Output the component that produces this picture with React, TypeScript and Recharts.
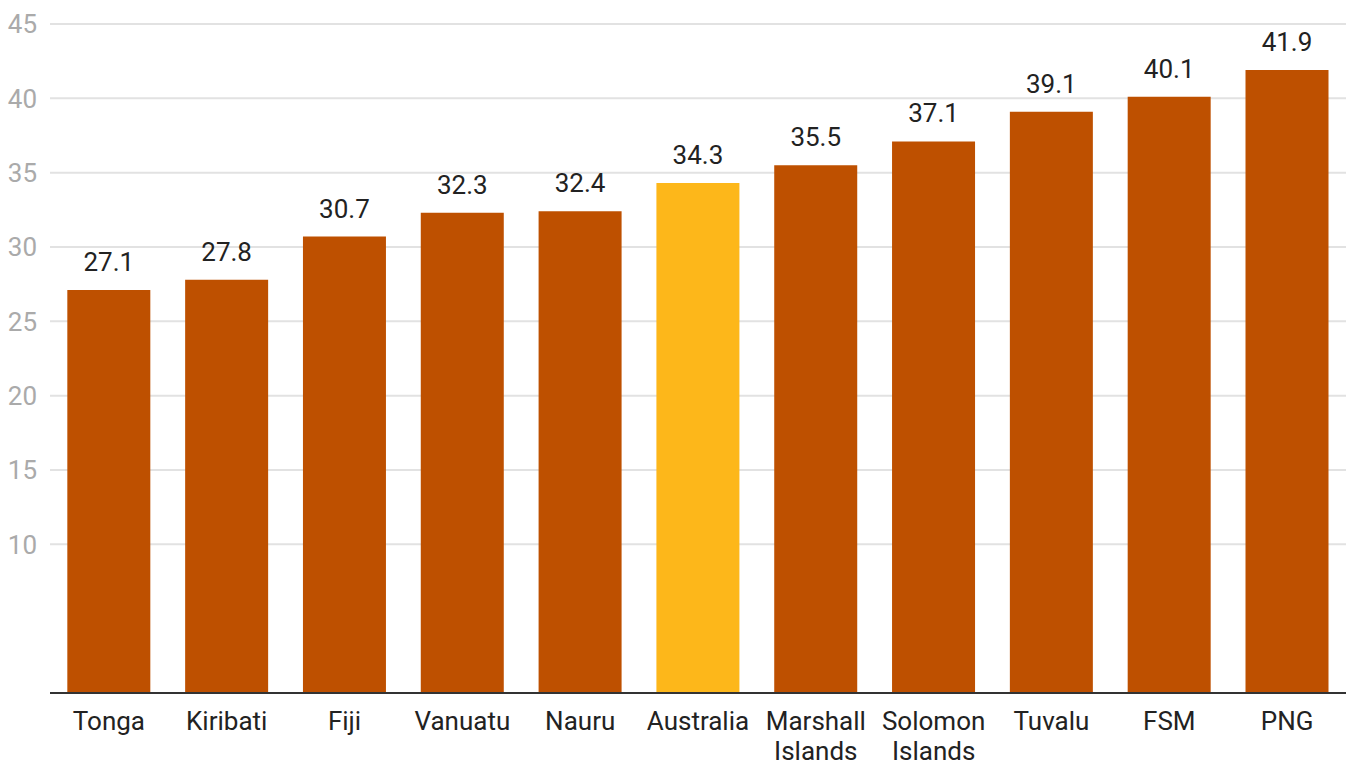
import React from 'react';
import { BarChart, Bar, XAxis, YAxis, CartesianGrid, Cell, LabelList } from 'recharts';

const categories = ['Tonga', 'Kiribati', 'Fiji', 'Vanuatu', 'Nauru', 'Australia', 'Marshall Islands', 'Solomon Islands', 'Tuvalu', 'FSM', 'PNG'];
const values = [27.1, 27.8, 30.7, 32.3, 32.4, 34.3, 35.5, 37.1, 39.1, 40.1, 41.9];
const highlight = 'Australia';
const yTicks = [10, 15, 20, 25, 30, 35, 40, 45];

const data = categories.map((name, i) => ({ name, value: values[i] }));

const FONT = 'Roboto, "Noto Sans", sans-serif';

const XTick = (props: any) => {
  const { x, y, payload } = props;
  const words = String(payload.value).split(' ');
  return (
    <g transform={`translate(${x},${y})`}>
      <text textAnchor="middle" fill="#222" fontSize={26} fontFamily={FONT}>
        {words.map((w: string, i: number) => (
          <tspan key={i} x={0} dy={i === 0 ? 33 : 30}>{w}</tspan>
        ))}
      </text>
    </g>
  );
};

export default function App() {
  return (
    <div style={{ position: 'absolute', left: 0, top: 0, width: 1350, height: 763, background: '#fff' }}>
      <BarChart width={1350} height={763} data={data} margin={{ top: 24, right: 4, left: 0, bottom: 0 }} barCategoryGap="14.7%">
        <CartesianGrid vertical={false} stroke="#e2e2e2" strokeWidth={2} />
        <XAxis
          dataKey="name"
          interval={0}
          height={70}
          tickLine={false}
          axisLine={{ stroke: '#333', strokeWidth: 2 }}
          tick={<XTick />}
          tickSize={0}
          tickMargin={4}
        />
        <YAxis
          width={50}
          domain={[0, 45]}
          ticks={yTicks}
          interval={0}
          axisLine={false}
          tickLine={false}
          tickSize={0}
          tickMargin={13}
          tick={{ fill: '#aaa', fontSize: 26, fontFamily: FONT }}
        />
        <Bar dataKey="value" isAnimationActive={false}>
          {data.map((d) => (
            <Cell key={d.name} fill={d.name === highlight ? '#FDB71A' : '#BE5000'} />
          ))}
          <LabelList dataKey="value" position="top" offset={19} fill="#222" fontSize={26} fontFamily={FONT} formatter={(v: any) => Number(v).toFixed(1)} />
        </Bar>
      </BarChart>
    </div>
  );
}
